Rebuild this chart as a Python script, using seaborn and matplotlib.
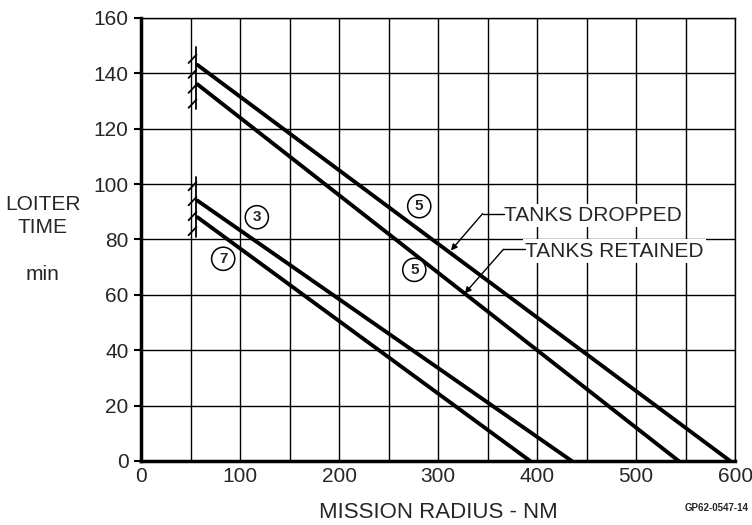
import numpy as np
import pandas as pd
import seaborn as sns
from matplotlib import pyplot as plt

# data
series = ['5 dropped', '5 retained', '3', '7']
start_radius = [57, 57, 57, 57]
start_loiter = [143, 136, 94, 88]
end_radius = [595, 543, 435, 393]
end_loiter = [0, 0, 0, 0]

circle_labels = ['5', '5', '3', '7']
circle_x = [281, 276, 117, 83]
circle_y = [92, 69, 88, 73]

# hatch bars marking the lower radius limit
hatch_x = 56
hatch_ranges = [(127, 149.5), (81, 102.5)]

# leader labels: text, text start, kink, arrow tip
leader_text = ['TANKS DROPPED', 'TANKS RETAINED']
leader_text_xy = [(367, 88.7), (388, 75.8)]
leader_kink = [(345, 89.3), (366, 76.4)]
leader_tip = [(313, 76), (327, 60.5)]

rows = []
for name, x0, y0, x1, y1 in zip(series, start_radius, start_loiter, end_radius, end_loiter):
    rows.append({'series': name, 'radius': x0, 'loiter': y0})
    rows.append({'series': name, 'radius': x1, 'loiter': y1})
df = pd.DataFrame(rows)

sns.set_style('white')
plt.rcParams['font.family'] = ['Liberation Sans', 'DejaVu Sans']

fig = plt.figure(figsize=(7.52, 5.25), dpi=100)
ax = fig.add_axes([0.1875, 0.122, 0.79, 0.844])

sns.lineplot(data=df, x='radius', y='loiter', units='series', estimator=None,
             color='black', linewidth=2.8, ax=ax, legend=False, zorder=4)

ax.set_xlim(0, 600)
ax.set_ylim(0, 160)
ax.set_xticks(np.arange(0, 601, 100))
ax.set_yticks(np.arange(0, 161, 20))
ax.set_xticks(np.arange(0, 601, 50), minor=True)
ax.grid(which='both', color='black', linewidth=1.0, zorder=1)
ax.set_axisbelow(True)
ax.tick_params(axis='both', which='major', labelsize=15, length=0, pad=4)
ax.tick_params(axis='both', which='minor', length=0)
ax.tick_params(axis='y', length=5, width=1.5, direction='out', color='black', left=True)

for side in ['left', 'bottom']:
    ax.spines[side].set_linewidth(2.5)
    ax.spines[side].set_color('black')
for side in ['top', 'right']:
    ax.spines[side].set_linewidth(1.0)
    ax.spines[side].set_color('black')

ax.set_xlabel('MISSION RADIUS - NM', fontsize=16, labelpad=12)
ax.set_ylabel('LOITER\nTIME\n\nmin', fontsize=15, rotation=0, labelpad=45,
              linespacing=1.3, va='center')
ax.yaxis.set_label_coords(-0.165, 0.5)

# hatch marks
for lo, hi in hatch_ranges:
    ax.plot([hatch_x, hatch_x], [lo, hi], color='black', linewidth=1.3, zorder=5)
    for yy in np.arange(lo + 3.5, hi + 0.5, 5.4):
        ax.plot([hatch_x - 8, hatch_x], [yy - 3.0, yy], color='black', linewidth=1.3, zorder=5)

# circled curve numbers
for lab, cx, cy in zip(circle_labels, circle_x, circle_y):
    ax.text(cx, cy, lab, fontsize=11, fontweight='bold', ha='center', va='center', zorder=6,
            family=['Liberation Sans Narrow', 'Liberation Sans', 'DejaVu Sans'],
            bbox=dict(boxstyle='circle,pad=0.3', facecolor='white', edgecolor='black', linewidth=1.1))

# leader labels
for txt, (tx, ty), (kx, ky), (px, py) in zip(leader_text, leader_text_xy, leader_kink, leader_tip):
    ax.text(tx, ty, txt, fontsize=15, ha='left', va='center', zorder=6,
            bbox=dict(boxstyle='square,pad=0.1', facecolor='white', edgecolor='none'))
    ax.plot([kx, tx], [ky, ky], color='black', linewidth=1.0, zorder=7)
    ax.annotate('', xy=(px, py), xytext=(kx, ky), zorder=6,
                arrowprops=dict(arrowstyle='-|>', color='black', linewidth=1.0,
                                shrinkA=0, shrinkB=0, mutation_scale=9))

fig.text(0.995, 0.032, 'GP62-0547-14', fontsize=7, fontweight='bold', ha='right', va='center')

fig.savefig('out.png', dpi=100, facecolor='white')
